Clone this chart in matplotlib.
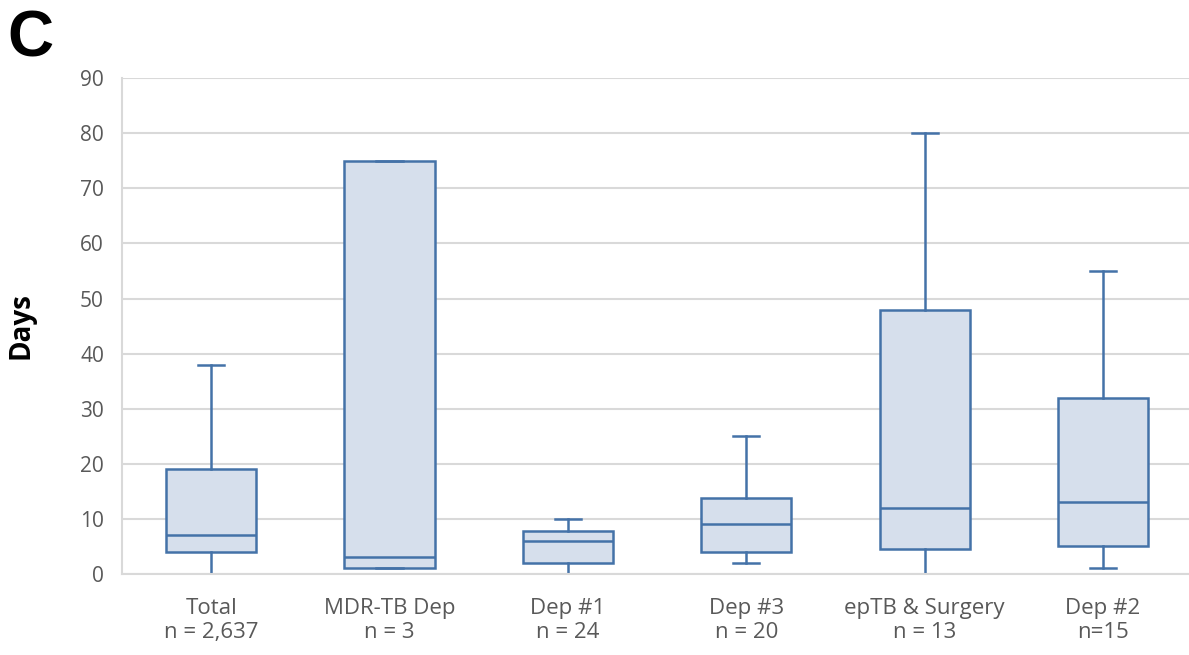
import matplotlib
matplotlib.use("Agg")
import matplotlib.pyplot as plt

# Box plot summary values (days)
categories = ["Total", "MDR-TB Dep", "Dep #1", "Dep #3", "epTB & Surgery", "Dep #2"]
n_labels = ["n = 2,637", "n = 3", "n = 24", "n = 20", "n = 13", "n=15"]
whisker_low = [0, 1, 0, 2, 0, 1]
q1 = [4, 1, 2, 4, 4.5, 5]
median = [7, 3, 6, 9, 12, 13]
q3 = [19, 75, 7.8, 13.8, 48, 32]
whisker_high = [38, 75, 10, 25, 80, 55]

edge = "#4472a8"
fill = "#d6dfec"
grid_col = "#d9d9d9"
text_col = "#595959"

plt.rcParams['font.family'] = ['Open Sans', 'DejaVu Sans']

fig = plt.figure(figsize=(11.89, 6.55), dpi=100)
# plot area runs past the right edge of the picture, as in the cropped original
ax = fig.add_axes([0.1026, 0.1237, 0.9, 0.757])

stats = []
for i in range(len(categories)):
    stats.append({"label": categories[i] + "\n" + n_labels[i],
                  "whislo": whisker_low[i], "q1": q1[i], "med": median[i],
                  "q3": q3[i], "whishi": whisker_high[i], "fliers": []})

ax.bxp(stats, positions=range(len(categories)), widths=0.505, patch_artist=True,
       showfliers=False,
       boxprops=dict(facecolor=fill, edgecolor=edge, linewidth=1.8),
       medianprops=dict(color=edge, linewidth=1.8),
       whiskerprops=dict(color=edge, linewidth=1.8),
       capprops=dict(color=edge, linewidth=1.8),
       capwidths=0.146)

ax.set_xlim(-0.5, len(categories) - 0.5)
ax.set_ylim(0, 90)
ax.set_yticks(range(0, 91, 10))
ax.yaxis.grid(True, color=grid_col, linewidth=1.5)
ax.set_axisbelow(True)

for s in ["top", "right"]:
    ax.spines[s].set_visible(False)
for s in ["left", "bottom"]:
    ax.spines[s].set_color(grid_col)
    ax.spines[s].set_linewidth(1.5)
    ax.spines[s].set_zorder(5)

ax.tick_params(axis="y", length=0, labelsize=15, colors=text_col, pad=13)
ax.tick_params(axis="x", length=0, labelsize=16, colors=text_col, pad=17)
ax.set_ylabel("Days", fontsize=20, fontweight="bold", color="black")
ax.yaxis.set_label_coords(-0.081, 0.5)

fig.text(0.006, 0.985, "C", fontsize=46, fontweight="bold", va="top", ha="left",
         family="Liberation Sans")

fig.savefig("out.png", dpi=100)
